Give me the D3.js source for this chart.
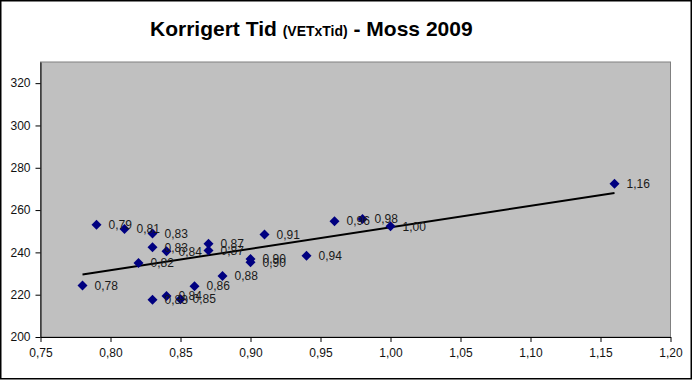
<!DOCTYPE html>
<html>
<head>
<meta charset="utf-8">
<script src="https://cdn.jsdelivr.net/npm/d3@7"></script>
<style>
  body { margin: 0; background: #fff; }
  text { font-family: "Liberation Sans", Arial, sans-serif; }
</style>
</head>
<body>
<script>
// DATA
var xVals = [0.78, 0.79, 0.81, 0.82, 0.83, 0.83, 0.83, 0.84, 0.84, 0.85, 0.86,
             0.87, 0.87, 0.88, 0.90, 0.90, 0.91, 0.94, 0.96, 0.98, 1.00, 1.16];
var yVals = [224.3, 253.1, 251.1, 235.0, 248.9, 242.4, 217.6, 240.5, 219.4, 217.9, 224.0,
             244.1, 240.9, 228.8, 236.9, 235.3, 248.4, 238.4, 254.7, 255.8, 252.3, 272.4];
var xTicks = [0.75, 0.80, 0.85, 0.90, 0.95, 1.00, 1.05, 1.10, 1.15, 1.20];
var yTicks = [200, 220, 240, 260, 280, 300, 320];

// SVG VARIABLES
var width = 693, height = 383;
var plotLeft = 40.5, plotRight = 670.5, plotTop = 62, plotBottom = 337;

var svg = d3.select("body").append("svg")
    .attr("width", width)
    .attr("height", height);

var loc = d3.formatLocale({decimal: ",", thousands: ".", grouping: [3], currency: ["", ""]});
var fmt = loc.format(".2f");

var x = d3.scaleLinear().domain([0.75, 1.20]).range([plotLeft, plotRight]);
var y = d3.scaleLinear().domain([200, 330]).range([plotBottom, plotTop]);

// outer frame
svg.append("rect")
    .attr("x", 0.75).attr("y", 0.75)
    .attr("width", 690.5).attr("height", 378)
    .attr("fill", "#fff").attr("stroke", "#000").attr("stroke-width", 1.5);

// title
var title = svg.append("text")
    .attr("x", 150).attr("y", 36)
    .attr("font-weight", "bold").attr("fill", "#000");
title.append("tspan").attr("font-size", "21px").text("Korrigert Tid ");
title.append("tspan").attr("font-size", "14px").text("(VETxTid)");
title.append("tspan").attr("font-size", "21px").text(" - Moss 2009");

// plot area
svg.append("rect")
    .attr("x", plotLeft).attr("y", plotTop)
    .attr("width", plotRight - plotLeft).attr("height", plotBottom - plotTop)
    .attr("fill", "#c0c0c0").attr("stroke", "#808080").attr("stroke-width", 1);

// axes
var yAxis = svg.append("g")
    .attr("transform", "translate(" + plotLeft + ",0)")
    .call(d3.axisLeft(y).tickValues(yTicks).tickSize(5).tickSizeOuter(0).tickPadding(5).tickFormat(d3.format("d")));
var xAxis = svg.append("g")
    .attr("transform", "translate(0," + plotBottom + ")")
    .call(d3.axisBottom(x).tickValues(xTicks).tickSize(5).tickSizeOuter(0).tickPadding(6).tickFormat(fmt));
[yAxis, xAxis].forEach(function(g) {
  g.selectAll("text").attr("font-size", "12px").attr("fill", "#111")
    .attr("font-family", "'Liberation Sans', Arial, sans-serif");
  g.selectAll("line").attr("stroke", "#000");
  g.select(".domain").attr("stroke", "#000");
});

// trend line (least squares)
var mx = d3.mean(xVals), my = d3.mean(yVals);
var sxy = d3.sum(xVals, function(v, i) { return (v - mx) * (yVals[i] - my); });
var sxx = d3.sum(xVals, function(v) { return (v - mx) * (v - mx); });
var slope = sxy / sxx, icept = my - slope * mx;
var x0 = d3.min(xVals), x1 = d3.max(xVals);
svg.append("line")
    .attr("x1", x(x0)).attr("y1", y(icept + slope * x0))
    .attr("x2", x(x1)).attr("y2", y(icept + slope * x1))
    .attr("stroke", "#000").attr("stroke-width", 2);

// points
var pts = xVals.map(function(v, i) { return {x: v, y: yVals[i]}; });
svg.append("g").selectAll("path")
    .data(pts).enter().append("path")
    .attr("transform", function(d) { return "translate(" + x(d.x) + "," + y(d.y) + ")"; })
    .attr("d", "M0,-5L5,0L0,5L-5,0Z")
    .attr("fill", "#000080");

// data labels
svg.append("g").selectAll("text")
    .data(pts).enter().append("text")
    .attr("x", function(d) { return x(d.x) + 12; })
    .attr("y", function(d) { return y(d.y); })
    .attr("dy", "0.35em")
    .attr("font-size", "12px")
    .attr("fill", "#1a1a1a")
    .text(function(d) { return fmt(d.x); });
</script>
</body>
</html>
